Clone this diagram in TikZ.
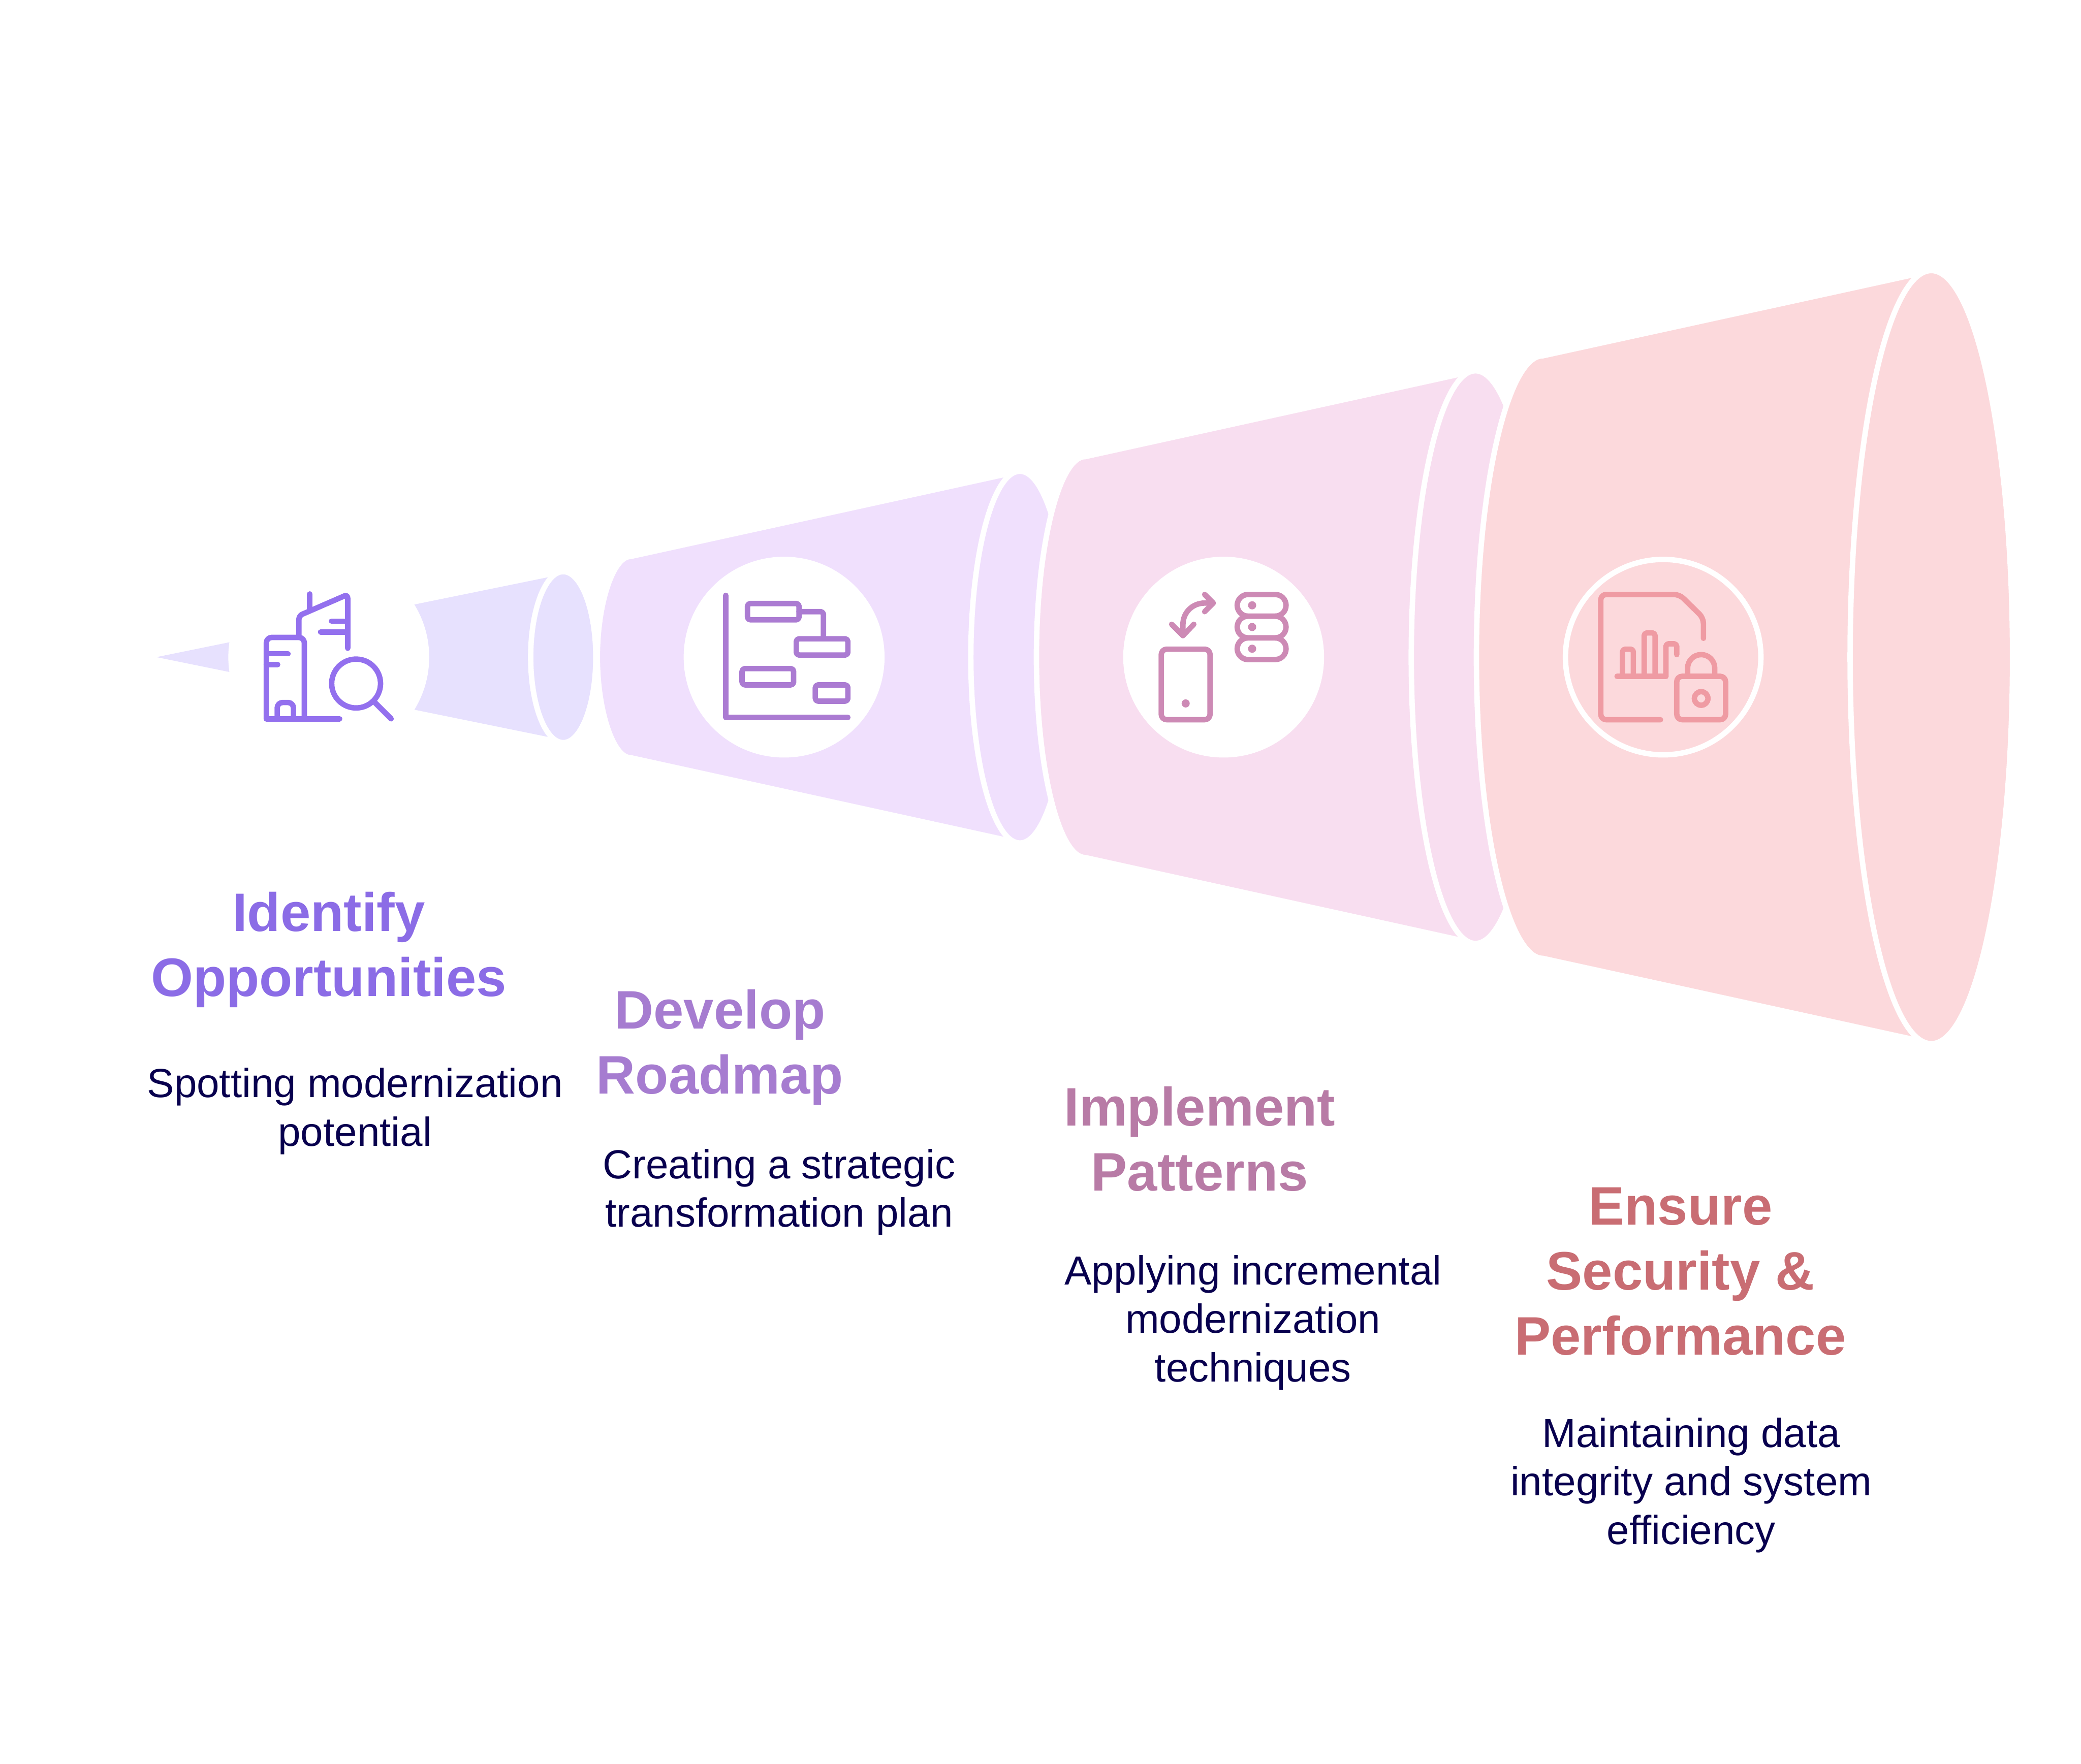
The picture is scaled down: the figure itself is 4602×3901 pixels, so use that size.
\documentclass[tikz,border=0pt]{standalone}
\usepackage{fontspec}
\setmainfont{Liberation Sans}
\usepackage{xcolor}
\usetikzlibrary{calc, positioning}

\definecolor{coneA}{HTML}{E7E1FE}
\definecolor{coneB}{HTML}{F0E0FD}
\definecolor{coneC}{HTML}{F8DEF0}
\definecolor{coneD}{HTML}{FCD9DC}
\definecolor{iconA}{HTML}{9370EE}
\definecolor{iconB}{HTML}{AB7BD2}
\definecolor{iconC}{HTML}{CD8AB5}
\definecolor{iconD}{HTML}{EF9BA3}
\definecolor{headA}{HTML}{8B6CE6}
\definecolor{headB}{HTML}{A67CD0}
\definecolor{headC}{HTML}{B87BA6}
\definecolor{headD}{HTML}{C96D73}
\definecolor{bodytext}{HTML}{08004E}

\begin{document}
\begin{tikzpicture}[
		x=0.01cm, y=-0.01cm,
		rim/.style={draw=white, line width=1.2mm},
		hole/.style={circle, fill=white, inner sep=0pt, minimum size=4.44cm},
		iconline/.style={line width=1.2mm, line cap=round, line join=round},
		soft/.style={rounded corners=0.6mm},
		round/.style={rounded corners=1.2mm},
		head/.style={align=center, inner sep=0pt, anchor=base, font=\fontsize{34.1pt}{40.9pt}\selectfont\bfseries},
		desc/.style={align=center, inner sep=0pt, anchor=base, text=bodytext, font=\fontsize{25.55pt}{30.45pt}\selectfont}
		]

		\useasboundingbox (0,0) rectangle (4602,3901);

		% --- First cone ---
		\fill[coneA] (346,1453.6) -- (1245.6,1270) -- (1245.6,1637) -- cycle;
		\draw[rim, fill=coneA] (1245.6,1453.6) ellipse [x radius=0.72cm, y radius=1.89cm];
		\node[hole] (holeA) at (727,1453.6) {};

		% --- Second cone ---
		\draw[rim, fill=coneB] (1321,1453.6) .. controls (1321,1335) and (1356,1231) .. (1394,1231)
			-- (2255.5,1042) -- (2255.5,1865) -- (1394,1676)
			.. controls (1356,1676) and (1321,1572) .. cycle;
		\draw[rim, fill=coneB] (2255.5,1453.6) ellipse [x radius=1.085cm, y radius=4.11cm];
		\node[hole] (holeB) at (1734,1453.6) {};

		% --- Third cone ---
		\draw[rim, fill=coneC] (2292,1453.6) .. controls (2292,1210) and (2341,1010) .. (2400,1010)
			-- (3263,820) -- (3263,2087) -- (2400,1897)
			.. controls (2341,1897) and (2292,1697) .. cycle;
		\draw[rim, fill=coneC] (3263,1453.6) ellipse [x radius=1.42cm, y radius=6.33cm];
		\node[hole] (holeC) at (2706,1453.6) {};

		% --- Fourth cone ---
		\draw[rim, fill=coneD] (3265,1453.6) .. controls (3265,1085) and (3332,787) .. (3412,787)
			-- (4271,599) -- (4271,2308) -- (3412,2120)
			.. controls (3332,2120) and (3265,1822) .. cycle;
		\draw[rim, fill=coneD] (4271,1453.6) ellipse [x radius=1.795cm, y radius=8.546cm];
		\node[hole, fill=none, draw=white, line width=1.2mm, minimum size=4.32cm] (holeD) at (3678,1453.6) {};

		% --- Buildings and magnifier ---
		\begin{scope}[iconline, draw=iconA]
			\draw[round] (589,1590) -- (589,1410) -- (673,1410) -- (673,1590);
			\draw (589,1590) -- (751,1590);
			\draw (589,1446) -- (637,1446);
			\draw (589,1470) -- (614,1470);
			\draw[round] (613,1590) -- (613,1554) -- (649,1554) -- (649,1590);
			\draw[rounded corners=0.8mm] (661,1410) -- (661,1362) -- (769,1315) -- (769,1434);
			\draw (685,1347) -- (685,1314);
			\draw (769,1374) -- (733,1374);
			\draw (769,1398) -- (709,1398);
			\draw (787.5,1512) circle (0.54cm);
			\draw (830,1555) -- (865,1590);
		\end{scope}

		% --- Planning chart ---
		\begin{scope}[iconline, draw=iconB]
			\draw (1605,1317) -- (1605,1587) -- (1875,1587);
			\draw[soft] (1653,1335) rectangle (1767,1371);
			\draw[soft] (1761,1413) rectangle (1875,1449);
			\draw[soft] (1641,1479) rectangle (1755,1515);
			\draw[soft] (1803,1515) rectangle (1875,1551);
			\draw[soft] (1767,1353) -- (1821,1353) -- (1821,1413);
		\end{scope}

		% --- Phone, arrow and servers ---
		\begin{scope}[iconline, draw=iconC]
			\draw[round] (2568,1436) rectangle (2676,1592);
			\fill[iconC] (2622,1556) circle (0.09cm);
			\draw (2616,1406) -- (2616,1381) .. controls (2616,1355) and (2637,1334) .. (2664,1334) -- (2683,1334);
			\draw (2664,1315) -- (2683,1334) -- (2664,1353);
			\draw (2591,1381) -- (2616,1406) -- (2640,1381);
			\foreach \ya/\yb in {1315/1363, 1363/1411, 1411/1459} {
				\draw[rounded corners=2.4mm] (2736,\ya) rectangle (2844,\yb);
				\fill[iconC] (2769,{(\ya+\yb)/2}) circle (0.09cm);
			}
		\end{scope}

		% --- Report and lock ---
		\begin{scope}[iconline, draw=iconD]
			\draw[round] (3672,1592) -- (3540,1592) -- (3540,1315) -- (3714,1315) -- (3767,1367) -- (3767,1412);
			\draw (3576,1496) -- (3684,1496);
			\draw[soft] (3588,1496) -- (3588,1436) -- (3612,1436) -- (3612,1496);
			\draw[soft] (3636,1496) -- (3636,1400) -- (3660,1400) -- (3660,1496);
			\draw[soft] (3684,1496) -- (3684,1424) -- (3708,1424) -- (3708,1448);
			\draw[round] (3708,1496) rectangle (3816,1592);
			\draw[rounded corners=3mm] (3732,1496) -- (3732,1448) -- (3792,1448) -- (3792,1496);
			\draw (3762,1545) circle (0.15cm);
		\end{scope}

		% --- Titles ---
		\node[head, text=headA] (titleA) at (727,2204) {Identify\\Opportunities};
		\node[head, text=headB] (titleB) at (1592,2420) {Develop\\Roadmap};
		\node[head, text=headC] (titleC) at (2653,2634) {Implement\\Patterns};
		\node[head, text=headD] (titleD) at (3716,2996.5) {Ensure\\Security \&\\Performance};

		% --- Descriptions ---
		\node[desc] (textA) at (785,2535) {Spotting modernization\\potential};
		\node[desc] (textB) at (1723,2714) {Creating a strategic\\transformation plan};
		\node[desc] (textC) at (2771,3056) {Applying incremental\\modernization\\techniques};
		\node[desc] (textD) at (3740,3415.6) {Maintaining data\\integrity and system\\efficiency};

\end{tikzpicture}
\end{document}
